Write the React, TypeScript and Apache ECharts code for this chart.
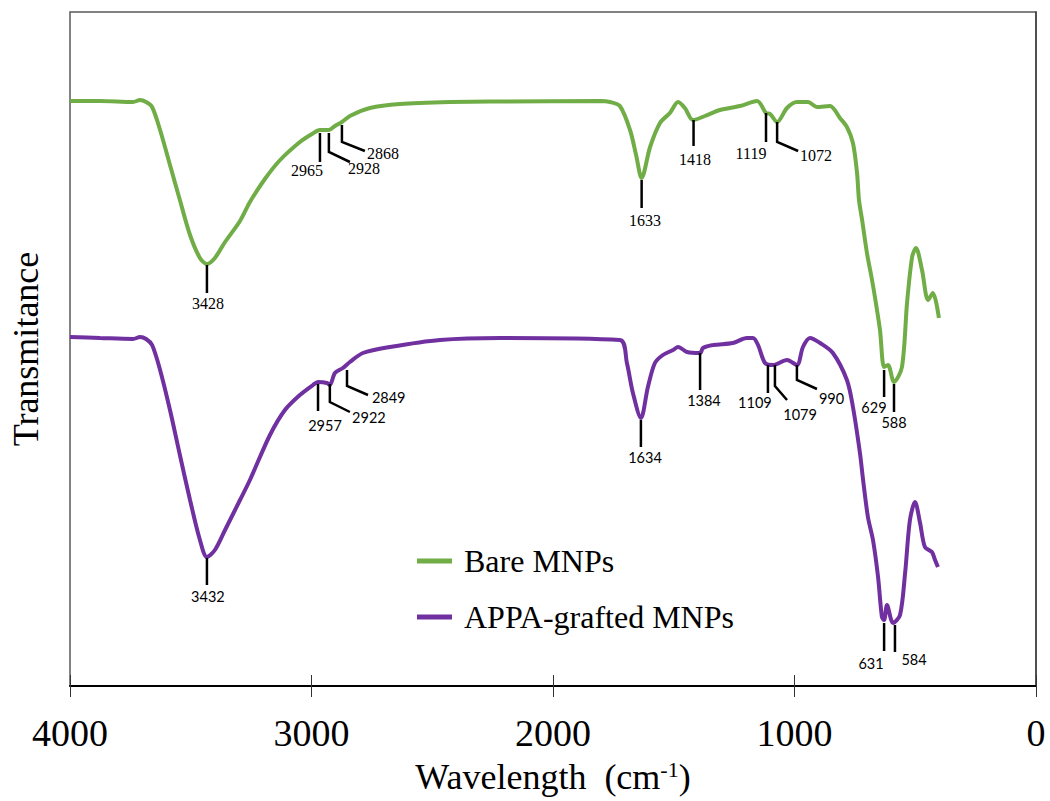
import React, { useEffect, useRef } from "react";
import * as echarts from "echarts";

// Wavenumber (cm-1) and transmittance (arbitrary units)
const bareWn = [4000, 3876, 3739, 3710, 3685, 3660, 3627, 3586, 3545, 3503, 3462, 3433, 3400, 3358, 3296, 3255, 3193, 3130, 3048, 2998, 2965, 2928, 2903, 2874, 2841, 2758, 2634, 2427, 2219, 1805, 1764, 1723, 1681, 1656, 1633, 1598, 1557, 1516, 1482, 1454, 1420, 1371, 1309, 1226, 1155, 1118, 1101, 1072, 1031, 990, 944, 907, 853, 812, 783, 758, 741, 733, 720, 700, 679, 667, 646, 629, 613, 588, 555, 534, 513, 497, 472, 447, 427, 402];
const bareT = [585, 585, 584, 586, 584, 579, 556, 521, 486, 451, 428, 422, 428, 444, 465, 484, 507, 526, 544, 552, 556, 556, 560, 564, 570, 578, 582, 584, 584.5, 585, 584, 580, 556, 531, 508, 539, 563, 573, 584, 578, 566, 570, 576, 580, 585, 573, 572, 564, 578, 584, 584, 579, 580, 568, 559, 543, 513, 486, 466, 433, 406, 389, 356, 319, 321, 304, 319, 383, 429, 438, 416, 386, 393, 368];

const apWn = [4000, 3876, 3739, 3710, 3685, 3660, 3627, 3586, 3545, 3503, 3462, 3433, 3400, 3358, 3296, 3255, 3172, 3110, 3048, 2994, 2973, 2936, 2924, 2903, 2870, 2841, 2787, 2675, 2468, 2219, 1723, 1694, 1669, 1636, 1607, 1578, 1545, 1503, 1482, 1445, 1391, 1379, 1337, 1255, 1197, 1172, 1151, 1122, 1089, 1031, 990, 965, 936, 894, 841, 783, 758, 729, 716, 696, 675, 654, 638, 629, 617, 592, 563, 542, 522, 501, 480, 460, 431, 418, 406];
const apT = [349, 348, 347, 349, 347, 341, 316, 276, 231, 186, 146, 129, 136, 156, 186, 206, 251, 276, 291, 301, 304, 303, 301, 313, 318, 324, 333, 339, 346, 348, 346, 323, 293, 268, 299, 323, 331, 336, 339, 334, 333, 338, 341, 343, 348, 348, 341, 323, 321, 326, 321, 339, 348, 343, 333, 306, 279, 233, 206, 169, 146, 109, 69, 66, 81, 63, 71, 113, 166, 184, 163, 139, 134, 126, 119];

const xTicks = [0, 1000, 2000, 3000, 4000];
const seriesNames = ["Bare MNPs", "APPA-grafted MNPs"];

// Peak annotations: label, leader points [wn, T], label anchor, alignment, font kind
type Ann = { t: string; pts: number[][]; at: number[]; align: string; sans: boolean };
const bareAnn: Ann[] = [
  { t: "3428", pts: [[3433, 421], [3433, 393]], at: [3429, 383], align: "center", sans: false },
  { t: "2965", pts: [[2965, 553], [2965, 524]], at: [3019, 516], align: "center", sans: false },
  { t: "2928", pts: [[2928, 553], [2928, 534], [2841, 524]], at: [2849, 518], align: "left", sans: false },
  { t: "2868", pts: [[2874, 561], [2874, 544], [2779, 535]], at: [2770, 533], align: "left", sans: false },
  { t: "1633", pts: [[1633, 506], [1633, 478]], at: [1619, 466], align: "center", sans: false },
  { t: "1418", pts: [[1418, 566], [1418, 540]], at: [1412, 527], align: "center", sans: false },
  { t: "1119", pts: [[1118, 573], [1118, 544]], at: [1180, 533], align: "center", sans: false },
  { t: "1072", pts: [[1072, 564], [1072, 544], [985, 535]], at: [977, 531], align: "left", sans: false },
  { t: "629", pts: [[629, 316], [629, 289]], at: [671, 279], align: "center", sans: true },
  { t: "588", pts: [[588, 302], [588, 274]], at: [588, 264], align: "center", sans: true },
];
const apAnn: Ann[] = [
  { t: "3432", pts: [[3433, 128], [3433, 101]], at: [3429, 90], align: "center", sans: true },
  { t: "2957", pts: [[2973, 302], [2973, 275]], at: [2944, 261], align: "center", sans: true },
  { t: "2922", pts: [[2924, 302], [2924, 284], [2841, 274]], at: [2832, 269], align: "left", sans: true },
  { t: "2849", pts: [[2853, 316], [2853, 300], [2766, 291]], at: [2750, 289], align: "left", sans: true },
  { t: "1634", pts: [[1636, 266], [1636, 239]], at: [1619, 229], align: "center", sans: true },
  { t: "1384", pts: [[1391, 333], [1391, 296]], at: [1375, 286], align: "center", sans: true },
  { t: "1109", pts: [[1110, 321], [1110, 293]], at: [1164, 284], align: "center", sans: true },
  { t: "1079", pts: [[1081, 321], [1081, 300], [1031, 286]], at: [977, 272], align: "center", sans: true },
  { t: "990", pts: [[990, 321], [990, 306], [907, 297]], at: [899, 288], align: "left", sans: true },
  { t: "631", pts: [[629, 63], [629, 35]], at: [683, 23], align: "center", sans: true },
  { t: "584", pts: [[584, 61], [584, 34]], at: [505, 27], align: "center", sans: true },
];
const annotations = [...bareAnn, ...apAnn];

const SERIF = "'Liberation Serif', 'Times New Roman', serif";
const SANS = "Lato, 'Noto Sans', sans-serif";

export default function App() {
  const ref = useRef<HTMLDivElement>(null);
  useEffect(() => {
    if (!ref.current) return;
    const chart = echarts.init(ref.current, null, { renderer: "svg" });
    const xBase = {
      type: "value" as const,
      min: 0,
      max: 4000,
      interval: 1000,
      inverse: true,
      splitLine: { show: false },
    };
    chart.setOption({
      animation: false,
      backgroundColor: "#fff",
      grid: {
        left: 70,
        right: 14,
        top: 12,
        bottom: 115,
        show: true,
        borderColor: "#595959",
        borderWidth: 1.5,
      },
      legend: {
        data: seriesNames,
        orient: "vertical",
        left: 412,
        top: 540,
        itemGap: 24,
        icon: "rect",
        itemWidth: 35,
        itemHeight: 5,
        textStyle: { fontFamily: SERIF, fontSize: 32, color: "#000", padding: [0, 0, 0, 7] },
      },
      xAxis: [
        {
          ...xBase,
          position: "bottom",
          name: "{n|Wavelength  (cm}{s|-1}{n|)}",
          nameLocation: "middle",
          nameGap: 72,
          nameTextStyle: {
            rich: {
              n: { fontFamily: SERIF, fontSize: 36, color: "#000" },
              s: { fontFamily: SERIF, fontSize: 22, color: "#000", padding: [0, 0, 16, 0] },
            },
          },
          axisLine: { show: true, lineStyle: { color: "#000", width: 2 } },
          axisTick: { show: true, inside: false, length: 11, lineStyle: { color: "#333", width: 1 } },
          axisLabel: {
            fontFamily: SERIF,
            fontSize: 38,
            color: "#000",
            margin: 28,
            formatter: (v: number) => (xTicks.includes(v) ? String(v) : ""),
          },
        },
        {
          ...xBase,
          position: "bottom",
          offset: 0,
          axisLine: { show: false },
          axisTick: { show: true, inside: true, length: 11, lineStyle: { color: "#333", width: 1 } },
          axisLabel: { show: false },
        },
      ],
      yAxis: {
        type: "value",
        min: 0,
        max: 674,
        name: "Transmitance",
        nameLocation: "middle",
        nameGap: 26,
        nameRotate: 90,
        nameTextStyle: { fontFamily: SERIF, fontSize: 36, color: "#000" },
        axisLine: { show: true, lineStyle: { color: "#404040", width: 1.5 } },
        axisTick: { show: false },
        axisLabel: { show: false },
        splitLine: { show: false },
      },
      series: [
        {
          name: seriesNames[0],
          type: "line",
          data: bareWn.map((w, i) => [w, bareT[i]]),
          symbol: "none",
          smooth: 0.3,
          lineStyle: { color: "#70AD47", width: 4 },
          itemStyle: { color: "#70AD47" },
          z: 3,
        },
        {
          name: seriesNames[1],
          type: "line",
          data: apWn.map((w, i) => [w, apT[i]]),
          symbol: "none",
          smooth: 0.3,
          lineStyle: { color: "#7030A0", width: 4 },
          itemStyle: { color: "#7030A0" },
          z: 3,
        },
        {
          name: "peaks",
          type: "custom",
          coordinateSystem: "cartesian2d",
          silent: true,
          z: 4,
          data: annotations.map((a) => a.at),
          renderItem: (params: any, api: any) => {
            const a = annotations[params.dataIndex];
            const pts = a.pts.map((p) => api.coord(p));
            const lp = api.coord(a.at);
            const fs = a.sans ? 14.5 : 16;
            return {
              type: "group",
              children: [
                {
                  type: "polyline",
                  shape: { points: pts },
                  style: { stroke: "#000", lineWidth: 2.5, fill: null },
                },
                {
                  type: "text",
                  x: lp[0],
                  y: lp[1],
                  style: {
                    text: a.t,
                    fill: "#000",
                    font: `${fs}px ${a.sans ? SANS : SERIF}`,
                    fontSize: fs,
                    fontFamily: a.sans ? SANS : SERIF,
                    align: a.align,
                    verticalAlign: "middle",
                  },
                },
              ],
            };
          },
        },
      ],
    });
    return () => chart.dispose();
  }, []);
  return (
    <div
      ref={ref}
      style={{ position: "fixed", left: 0, top: 0, width: 1050, height: 801 }}
    />
  );
}
